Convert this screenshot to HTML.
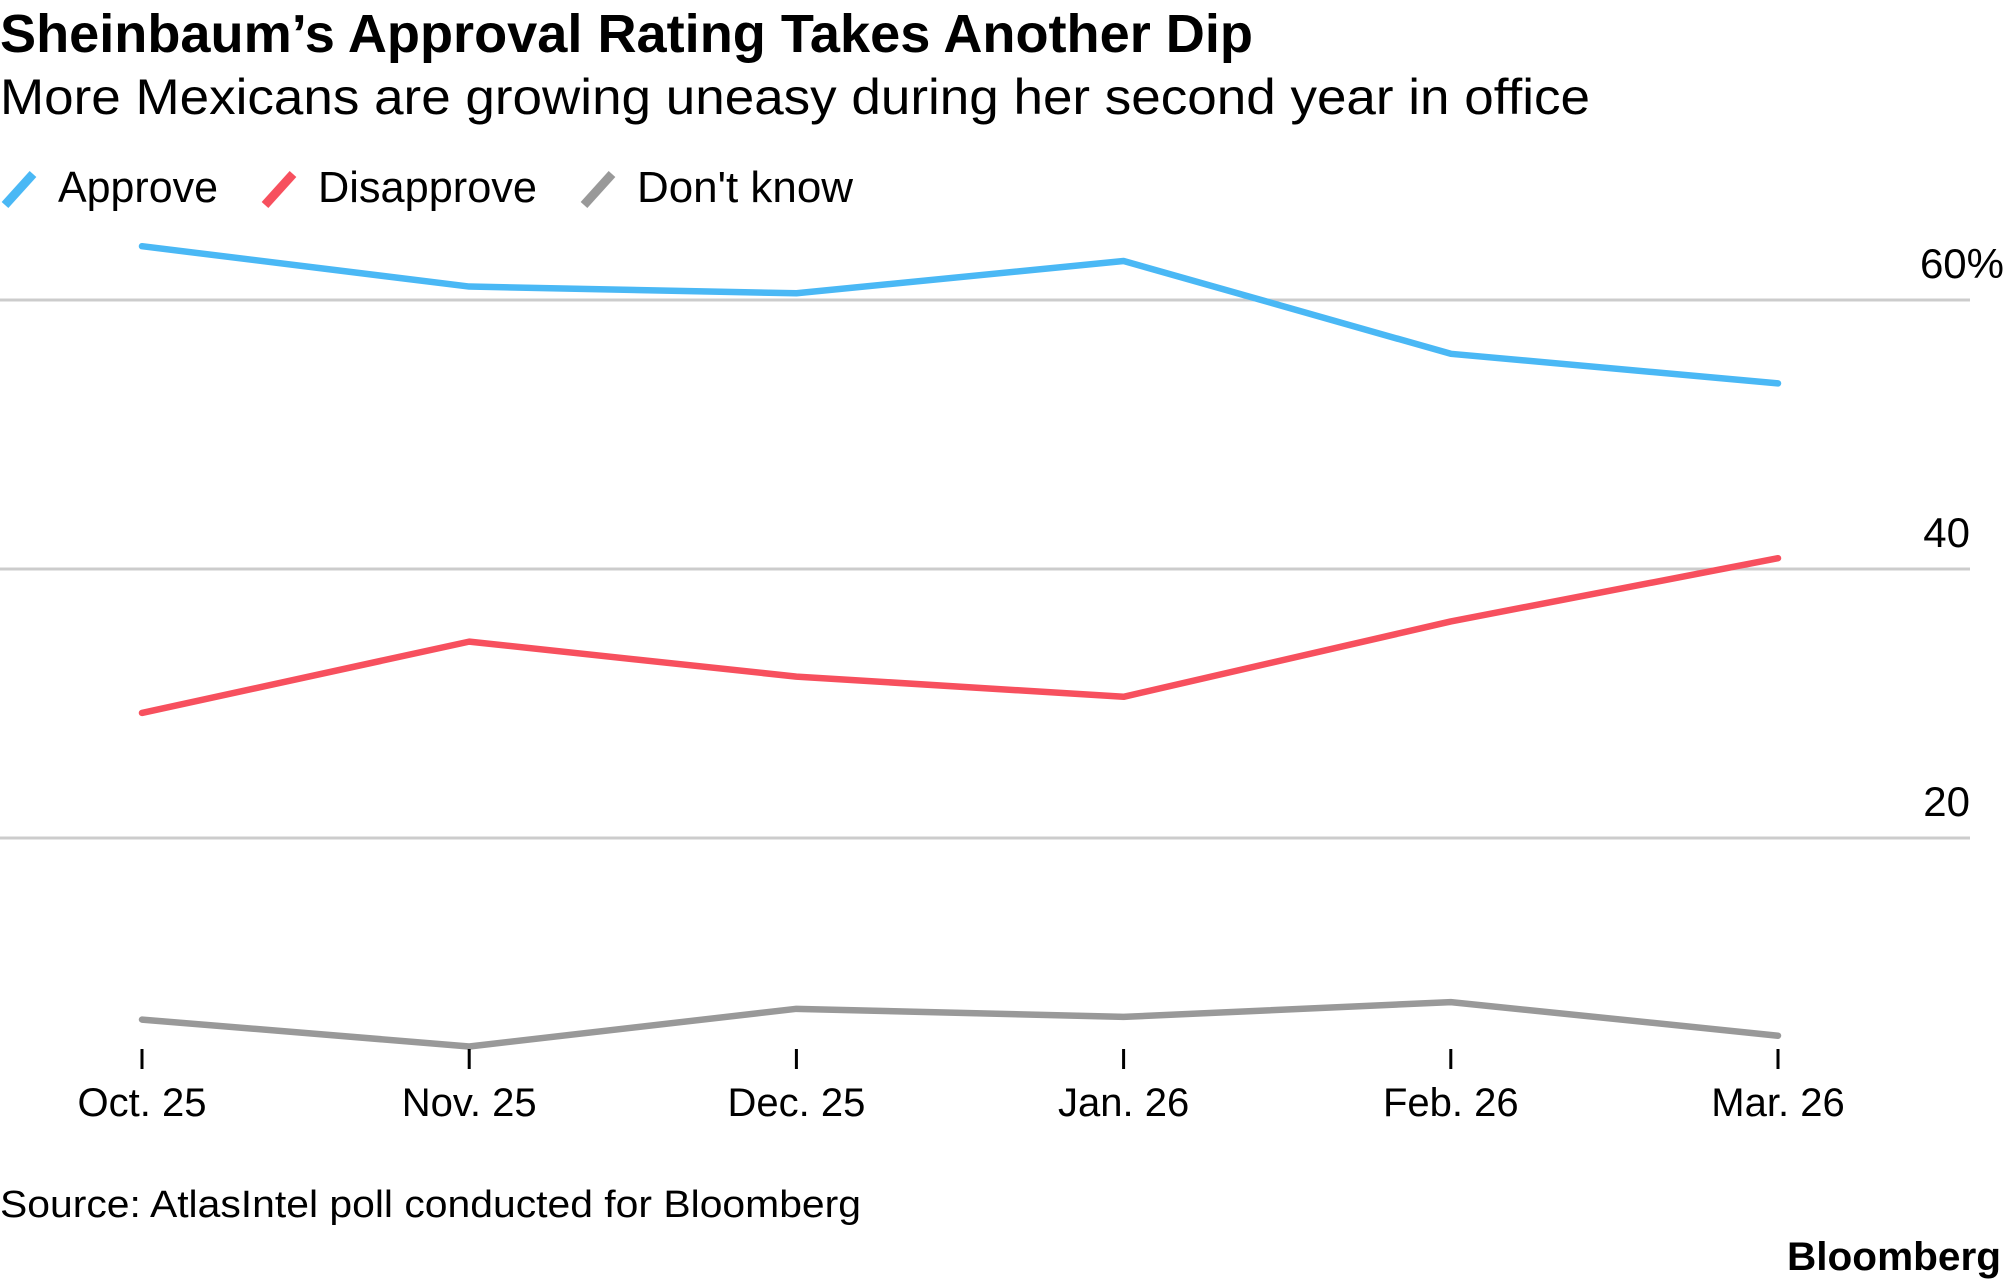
<!DOCTYPE html>
<html><head><meta charset="utf-8"><style>
html,body{margin:0;padding:0;background:#fff;}
svg{display:block;font-family:"Liberation Sans",Arial,sans-serif;}
</style></head><body>
<svg id="chart" width="2005" height="1287" viewBox="0 0 2005 1287" xmlns="http://www.w3.org/2000/svg">
<text x="0" y="52" font-size="54" font-weight="bold" textLength="1253" lengthAdjust="spacingAndGlyphs" fill="#000">Sheinbaum’s Approval Rating Takes Another Dip</text>
<text x="0" y="114" font-size="50" textLength="1590" lengthAdjust="spacingAndGlyphs" fill="#000">More Mexicans are growing uneasy during her second year in office</text>
<g>
<g><line x1="5" y1="205" x2="33" y2="174" stroke="#4ab8f5" stroke-width="9"/><text x="58" y="202" font-size="44" textLength="160" lengthAdjust="spacingAndGlyphs">Approve</text></g>
<g><line x1="265" y1="205" x2="293" y2="174" stroke="#f7505e" stroke-width="9"/><text x="318" y="202" font-size="44" textLength="219" lengthAdjust="spacingAndGlyphs">Disapprove</text></g>
<g><line x1="584" y1="205" x2="612" y2="174" stroke="#999" stroke-width="9"/><text x="637" y="202" font-size="44" textLength="216" lengthAdjust="spacingAndGlyphs">Don't know</text></g>
</g>
<g id="grid"></g><g id="series"></g><g id="xaxis"></g>
<text x="0" y="1217" font-size="38" textLength="861" lengthAdjust="spacingAndGlyphs">Source: AtlasIntel poll conducted for Bloomberg</text>
<text x="2001" y="1270" font-size="40" font-weight="bold" text-anchor="end" textLength="214" lengthAdjust="spacingAndGlyphs">Bloomberg</text>
</svg>
<script>
const categories = ["Oct. 25","Nov. 25","Dec. 25","Jan. 26","Feb. 26","Mar. 26"];
const approve = [64.0, 61.0, 60.5, 62.9, 56.0, 53.8];
const disapprove = [29.3, 34.6, 32.0, 30.5, 36.1, 40.8];
const dontKnow = [6.5, 4.5, 7.3, 6.7, 7.8, 5.3];
const yTicks = [20, 40, 60];
const yTickLabels = ["20", "40", "60%"];

const NS = "http://www.w3.org/2000/svg";
function xPos(i){ return 142 + i * (1778 - 142) / (categories.length - 1); }
function yPos(v){ return 1107 - v * (1107 - 300) / 60; }
function mk(tag, attrs, parent){ const e = document.createElementNS(NS, tag); for (const k in attrs) e.setAttribute(k, attrs[k]); parent.appendChild(e); return e; }

const grid = document.getElementById('grid');
yTicks.forEach((t, i) => {
  const l = mk('line', {x1:0, x2:1970, y1:yPos(t), y2:yPos(t), stroke:'#cccccc', 'stroke-width':3}, grid);
  
  
  const tx = mk('text', {x: i === 2 ? 2004 : 1970, y: yPos(t) - 22, 'font-size':42, 'text-anchor':'end'}, grid);
  tx.textContent = yTickLabels[i];
  
  
});

const xaxis = document.getElementById('xaxis');
categories.forEach((c, i) => {
  const tk = mk('line', {x1:xPos(i), x2:xPos(i), y1:1049, y2:1069, stroke:'#000', 'stroke-width':3}, xaxis);
  
  
  const tx = mk('text', {x:xPos(i), y:1116, 'font-size':40, 'text-anchor':'middle'}, xaxis);
  tx.textContent = c;
  
  
});

const series = document.getElementById('series');
[[approve,'#4ab8f5','approve-line'],[disapprove,'#f7505e','disapprove-line'],[dontKnow,'#999999','dont-know-line']].forEach(([vals,col,name]) => {
  const pts = vals.map((v, i) => xPos(i) + ',' + yPos(v)).join(' ');
  const p = mk('polyline', {points:pts, fill:'none', stroke:col, 'stroke-width':6.5, 'stroke-linejoin':'round', 'stroke-linecap':'round'}, series);
  
  
});
</script>
</body></html>
